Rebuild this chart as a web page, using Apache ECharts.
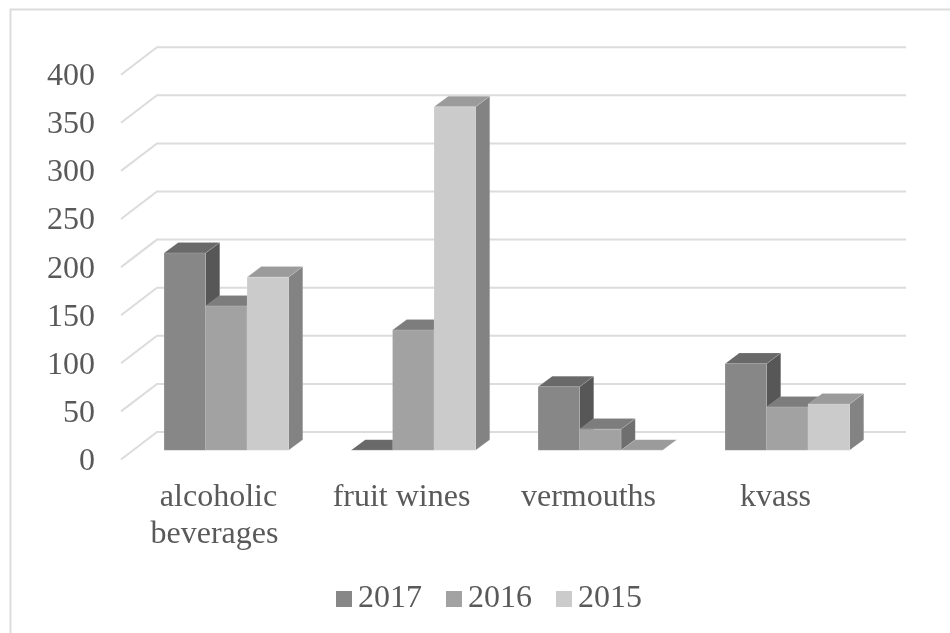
<!DOCTYPE html>
<html>
<head>
<meta charset="utf-8">
<style>html,body{margin:0;padding:0;background:#fff}#chart{width:950px;height:633px}</style>
<script src="https://cdn.jsdelivr.net/npm/echarts@6/dist/echarts.min.js"></script>
</head>
<body>
<div id="chart"></div>
<script>
const categories = [' alcoholic\nbeverages', 'fruit wines', 'vermouths', 'kvass'];
const years = ['2017', '2016', '2015'];
const values2017 = [205, 0, 66, 90];
const values2016 = [150, 125, 22, 45];
const values2015 = [180, 357, 0, 48];
const gridTicks = [0, 50, 100, 150, 200, 250, 300, 350, 400];

// Shading of each column: front, top and side faces.
const faces = [
  { front: '#878787', top: '#696969', side: '#575757' },
  { front: '#a2a2a2', top: '#7d7d7d', side: '#6f6f6f' },
  { front: '#cbcbcb', top: '#9b9b9b', side: '#838383' }
];

// Oblique projection, in pixels: floor depth, column depth, column inset and width.
const wallDx = 36, wallDy = 27.5;
const barInsetDx = 11.8, barInsetDy = 9.2;
const barDx = 14.2, barDy = 10.6;
const barWidth = 41.5;
const faceEdge = 'rgba(255,255,255,0.12)';

function renderWall(params, api) {
  const y = api.coord([0, api.value(0)])[1];
  const x0 = params.coordSys.x;
  const x1 = x0 + params.coordSys.width;
  return {
    type: 'polyline',
    silent: true,
    shape: { points: [[x0, y], [x0 + wallDx, y - wallDy], [x1 + wallDx + 1, y - wallDy]] },
    style: { fill: null, stroke: '#dcdcdc', lineWidth: 2 }
  };
}

function columnRenderer(order) {
  const c = faces[order];
  return function (params, api) {
    const pt = api.coord([api.value(0), api.value(1)]);
    const base = api.coord([api.value(0), 0]);
    const x0 = pt[0] + barInsetDx + (order - 1.5) * barWidth;
    const x1 = x0 + barWidth;
    const yTop = pt[1] - barInsetDy;
    const yBase = base[1] - barInsetDy;
    return {
      type: 'group',
      children: [
        { type: 'polygon', shape: { points: [[x1, yTop], [x1 + barDx, yTop - barDy], [x1 + barDx, yBase - barDy], [x1, yBase]] },
          style: { fill: c.side, stroke: faceEdge, lineWidth: 1 } },
        { type: 'polygon', shape: { points: [[x0, yTop], [x0 + barDx, yTop - barDy], [x1 + barDx, yTop - barDy], [x1, yTop]] },
          style: { fill: c.top, stroke: faceEdge, lineWidth: 1 } },
        { type: 'rect', shape: { x: x0, y: yTop, width: barWidth, height: yBase - yTop },
          style: { fill: c.front, stroke: faceEdge, lineWidth: 1 } }
      ]
    };
  };
}

const seriesValues = [values2017, values2016, values2015];
const font = { fontFamily: '"Liberation Serif", serif', fontSize: 32, color: '#595959' };

const chart = echarts.init(document.getElementById('chart'), null, { renderer: 'canvas' });
chart.setOption({
  animation: false,
  backgroundColor: '#fff',
  graphic: [{
    type: 'polyline',
    silent: true,
    z: -10,
    shape: { points: [[10.5, 640], [10.5, 9.5], [960, 9.5]] },
    style: { fill: null, stroke: '#dcdcdc', lineWidth: 2 }
  }],
  // The second grid sits just below the first and carries only the value labels.
  grid: [
    { left: 121, right: 81, top: 74.7, bottom: 173.5 },
    { left: 121, right: 81, top: 76.7, bottom: 171.5 }
  ],
  legend: {
    left: 336,
    top: 583,
    padding: 0,
    itemWidth: 16,
    itemHeight: 16,
    itemGap: 24,
    icon: 'rect',
    data: years,
    textStyle: Object.assign({ padding: [0, 0, 0, 1] }, font)
  },
  xAxis: [{
    type: 'category',
    data: categories,
    axisLine: { show: false },
    axisTick: { show: false },
    splitLine: { show: false },
    axisLabel: Object.assign({ margin: 19.5, lineHeight: 37, interval: 0 }, font)
  }, {
    type: 'category',
    gridIndex: 1,
    data: categories,
    show: false
  }],
  yAxis: [{
    type: 'value',
    min: 0,
    max: 400,
    interval: 50,
    axisLine: { show: false },
    axisTick: { show: false },
    splitLine: { show: false },
    axisLabel: { show: false }
  }, {
    type: 'value',
    gridIndex: 1,
    min: 0,
    max: 400,
    interval: 50,
    axisLine: { show: false },
    axisTick: { show: false },
    splitLine: { show: false },
    axisLabel: Object.assign({ margin: 26 }, font)
  }],
  series: [{
    type: 'custom',
    silent: true,
    z: 1,
    clip: false,
    renderItem: renderWall,
    encode: { y: 0 },
    data: gridTicks.map(v => [v])
  }].concat(years.map((year, i) => ({
    type: 'custom',
    name: year,
    z: 2 + i,
    clip: false,
    itemStyle: { color: faces[i].front },
    renderItem: columnRenderer(i),
    encode: { x: 0, y: 1 },
    data: seriesValues[i].map((v, k) => [k, v])
  })))
});
</script>
</body>
</html>
